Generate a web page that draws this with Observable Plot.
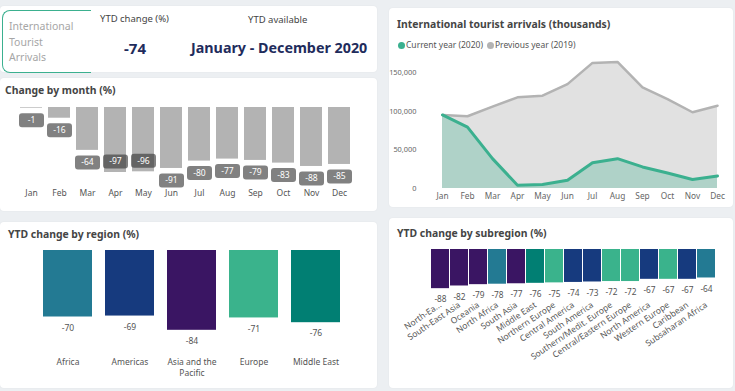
<!DOCTYPE html>
<html><head><meta charset="utf-8">
<script src="https://cdn.jsdelivr.net/npm/d3@7"></script>
<script src="https://cdn.jsdelivr.net/npm/@observablehq/plot@0.6"></script>
<style>
html,body{margin:0;padding:0;}
body{width:735px;height:391px;background:#eceff2;position:relative;overflow:hidden;font-family:"Noto Sans","Open Sans",sans-serif;color:#444;}
.card{position:absolute;background:#fff;border-radius:4px;box-shadow:0 0 2px rgba(0,0,0,0.05);}
.abs{position:absolute;white-space:nowrap;line-height:14px;}
.title{font-weight:700;font-size:10.4px;color:#454545;}
.plot{position:absolute;}
.plot svg{display:block;}
</style></head><body>
<div class="card" style="left:0;top:6px;width:377px;height:66px;"></div>
<div class="card" style="left:0;top:78px;width:377px;height:133px;"></div>
<div class="card" style="left:389px;top:8px;width:344px;height:199px;"></div>
<div class="card" style="left:0;top:222px;width:377px;height:166px;"></div>
<div class="card" style="left:389px;top:218px;width:344px;height:170px;"></div>

<div class="abs" style="left:2px;top:10px;width:88px;height:61px;border:1px solid #3bb08f;border-right:none;border-radius:8px 0 0 8px;"></div>
<div class="abs" style="left:9px;top:19px;font-size:10.5px;line-height:15.5px;color:#a6a6a6;white-space:normal;">International<br>Tourist<br>Arrivals</div>
<div class="abs" style="left:100px;top:12px;font-size:9.5px;color:#444;">YTD change (%)</div>
<div class="abs" style="left:248px;top:13px;font-size:9.5px;color:#444;">YTD available</div>
<div class="abs" id="kpiValue" style="left:124px;top:39px;font-size:15px;line-height:18px;font-weight:700;color:#1f2c5c;"></div>
<div class="abs" id="kpiPeriod" style="left:191px;top:39px;font-size:14.3px;line-height:18px;font-weight:700;color:#1f2c5c;"></div>

<div class="abs title" style="left:5px;top:83px;">Change by month (%)</div>
<div class="abs title" style="left:397px;top:17px;">International tourist arrivals (thousands)</div>
<div class="abs title" style="left:8px;top:227px;">YTD change by region (%)</div>
<div class="abs title" style="left:397px;top:226px;">YTD change by subregion (%)</div>
<div class="abs" id="legend" style="left:398px;top:38px;font-size:8.5px;color:#555;"></div>

<div class="plot" id="monthChart" style="left:0;top:78px;"></div>
<div class="plot" id="arrivalChart" style="left:388px;top:8px;"></div>
<div class="plot" id="regionChart" style="left:0;top:222px;"></div>
<div class="plot" id="subregionChart" style="left:388px;top:218px;"></div>

<script>
// ---- data ----
const ytdChange = -74;
const ytdPeriod = "January - December 2020";

const months = ["Jan","Feb","Mar","Apr","May","Jun","Jul","Aug","Sep","Oct","Nov","Dec"];
const monthChange = [-1,-16,-64,-97,-96,-91,-80,-77,-79,-83,-88,-85];

const arrivals2020 = [95100,79300,38600,4300,5100,10700,33400,38600,27900,20100,11600,16300];
const arrivals2019 = [95100,93400,105900,117900,120000,135000,162400,163700,130700,115700,98600,107100];
const seriesNames = ["Current year (2020)","Previous year (2019)"];
const arrivalTicks = [0,50000,100000,150000];

const regions = ["Africa","Americas","Asia and the Pacific","Europe","Middle East"];
const regionLabels = ["Africa","Americas","Asia and the\nPacific","Europe","Middle East"];
const regionChange = [-70,-69,-84,-71,-76];

const subregions = ["North-East Asia","South-East Asia","Oceania","North Africa","South Asia","Middle East (sub)","Northern Europe","Central America","South America","Southern/Medit. Europe","Central/Eastern Europe","North America","Western Europe","Caribbean","Subsaharan Africa"];
const subregionLabels = ["North-Ea...","South-East Asia","Oceania","North Africa","South Asia","Middle East","Northern Europe","Central America","South America","Southern/Medit. Europe","Central/Eastern Europe","North America","Western Europe","Caribbean","Subsaharan Africa"];
const subregionChange = [-88,-82,-79,-78,-77,-76,-75,-74,-73,-72,-72,-67,-67,-67,-64];
const subregionParent = ["Asia and the Pacific","Asia and the Pacific","Asia and the Pacific","Africa","Asia and the Pacific","Middle East","Europe","Americas","Americas","Europe","Europe","Americas","Europe","Americas","Africa"];

// ---- styles ----
const regionPalette = ["#237a93","#163a7e","#3a1563","#3ab38c","#017f73"];
const FONT = '"Noto Sans","Open Sans",sans-serif';
const fmtSigned = d => (d < 0 ? "-" : "") + Math.abs(d);

document.getElementById("kpiValue").textContent = fmtSigned(ytdChange);
document.getElementById("kpiPeriod").textContent = ytdPeriod;

// legend
const legendColors = ["#3bb08f","#b3b3b3"];
document.getElementById("legend").innerHTML = seriesNames.map((s,i)=>
  `<span style="display:inline-block;width:7px;height:7px;border-radius:50%;background:${legendColors[i]};vertical-align:-0.5px;margin-right:1px;"></span>${s}`
).join('<span style="display:inline-block;width:4px"></span>');

// rounded label box symbol
const labelBox = {draw(ctx){
  const w=25,h=14,r=3,x=-w/2,y=-h/2;
  ctx.moveTo(x+r,y); ctx.lineTo(x+w-r,y); ctx.arcTo(x+w,y,x+w,y+r,r);
  ctx.lineTo(x+w,y+h-r); ctx.arcTo(x+w,y+h,x+w-r,y+h,r);
  ctx.lineTo(x+r,y+h); ctx.arcTo(x,y+h,x,y+h-r,r);
  ctx.lineTo(x,y+r); ctx.arcTo(x,y,x+r,y,r); ctx.closePath();
}};

// ---- month chart ----
const monthData = months.map((m,i)=>({month:m, change:monthChange[i]}));
const outside = d => d.change > -93;
const inside = d => d.change <= -93;
document.getElementById("monthChart").appendChild(Plot.plot({
  width:377, height:132, marginLeft:17, marginRight:24, marginTop:29, marginBottom:36,
  style:{fontFamily:FONT, fontSize:"8.5px", color:"#555", background:"transparent"},
  x:{domain:months, paddingInner:0.23, paddingOuter:0, label:null, tickSize:0, tickPadding:15},
  y:{domain:[-100,0], axis:null},
  marks:[
    Plot.barY(monthData,{x:"month", y:"change", fill:"#b3b3b3"}),
    Plot.dot(monthData,{filter:outside, x:"month", y:"change", dy:12, symbol:labelBox, r:5, fill:"#333", fillOpacity:0.62, stroke:null}),
    Plot.dot(monthData,{filter:inside, x:"month", y:"change", dy:-11, symbol:labelBox, r:5, fill:"#333", fillOpacity:0.62, stroke:null}),
    Plot.text(monthData,{filter:outside, x:"month", y:"change", dy:12, text:d=>fmtSigned(d.change), fill:"white", fontSize:8.5}),
    Plot.text(monthData,{filter:inside, x:"month", y:"change", dy:-11, text:d=>fmtSigned(d.change), fill:"white", fontSize:8.5})
  ]
}));

// ---- arrivals chart ----
const arrivalData = months.map((m,i)=>({month:m, cur:arrivals2020[i], prev:arrivals2019[i]}));
document.getElementById("arrivalChart").appendChild(Plot.plot({
  width:345, height:200, marginLeft:53, marginRight:15, marginTop:64, marginBottom:20,
  style:{fontFamily:FONT, fontSize:"8.3px", color:"#666", background:"transparent"},
  x:{type:"point", domain:months, padding:0, label:null, tickSize:0, tickPadding:5},
  y:{domain:[0,150000], axis:null},
  marks:[
    Plot.areaY(arrivalData,{x:"month", y:"prev", fill:"#b3b3b3", fillOpacity:0.4}),
    Plot.areaY(arrivalData,{x:"month", y:"cur", fill:"#3bb08f", fillOpacity:0.3}),
    Plot.lineY(arrivalData,{x:"month", y:"prev", stroke:"#b3b3b3", strokeWidth:2.5}),
    Plot.lineY(arrivalData,{x:"month", y:"cur", stroke:"#3bb08f", strokeWidth:3}),
    Plot.axisY({ticks:arrivalTicks, tickFormat:d3.format(","), label:null, tickSize:0, tickPadding:25, fontSize:7.4, fill:"#666"})
  ]
}));

// ---- region chart ----
const regionData = regions.map((r,i)=>({region:r, change:regionChange[i]}));
document.getElementById("regionChart").appendChild(Plot.plot({
  width:377, height:166, marginLeft:42, marginRight:36, marginTop:28, marginBottom:43,
  style:{fontFamily:FONT, fontSize:"8.5px", color:"#555", background:"transparent"},
  x:{domain:regions, paddingInner:0.213, paddingOuter:0, axis:null},
  y:{domain:[-100,0], axis:null},
  color:{domain:regions, range:regionPalette},
  marks:[
    Plot.barY(regionData,{x:"region", y:"change", fill:"region"}),
    Plot.text(regionData,{x:"region", y:"change", dy:11, text:d=>fmtSigned(d.change), fill:"#555", fontSize:8.5}),
    Plot.axisX({tickSize:0, tickPadding:12, label:null, lineHeight:1.3, tickFormat:(d,i)=>regionLabels[regions.indexOf(d)], fill:"#555"})
  ]
}));

// ---- subregion chart ----
const subData = subregions.map((s,i)=>({sub:s, change:subregionChange[i], parent:subregionParent[i]}));
document.getElementById("subregionChart").appendChild(Plot.plot({
  width:345, height:170, marginLeft:41, marginRight:15, marginTop:31, marginBottom:94.5,
  style:{fontFamily:FONT, fontSize:"8.5px", color:"#555", background:"transparent"},
  x:{domain:subregions, paddingInner:0.05, paddingOuter:0, axis:null},
  y:{domain:[-100,0], axis:null},
  color:{domain:regions, range:regionPalette},
  marks:[
    Plot.barY(subData,{x:"sub", y:"change", fill:"parent"}),
    Plot.text(subData,{x:"sub", y:"change", dy:11, text:d=>fmtSigned(d.change), fill:"#555", fontSize:8.3}),
    Plot.axisX({tickSize:0, tickPadding:10, tickRotate:-34, label:null, tickFormat:d=>subregionLabels[subregions.indexOf(d)], fill:"#555"})
  ]
}));
</script>
</body></html>
